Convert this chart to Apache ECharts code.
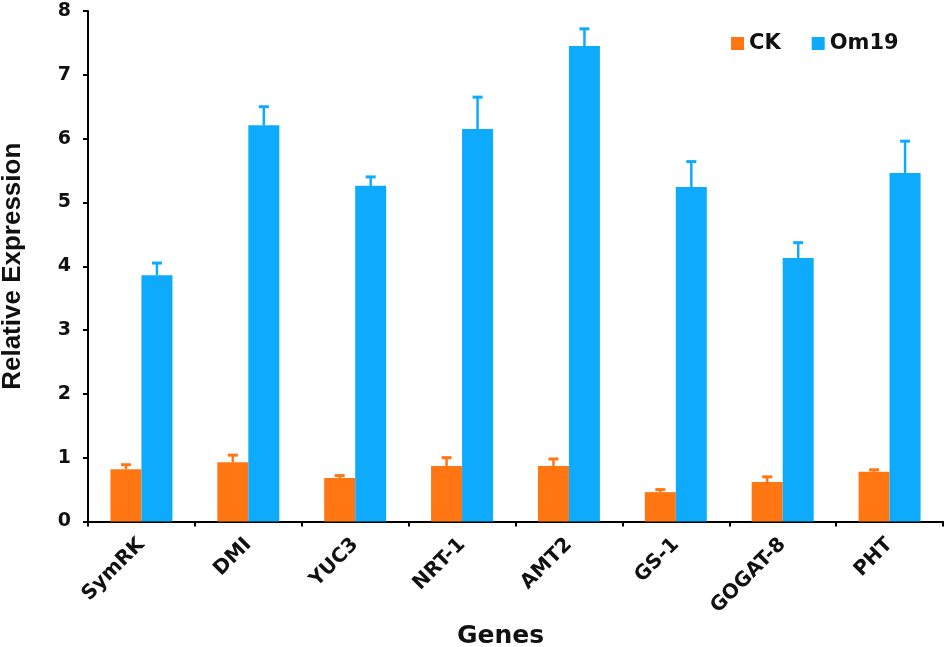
<!DOCTYPE html>
<html>
<head>
<meta charset="utf-8">
<script src="https://cdn.jsdelivr.net/npm/echarts@6/dist/echarts.min.js"></script>
<style>html,body{margin:0;padding:0;background:#fff}#c{width:945px;height:647px}</style>
</head>
<body>
<div id="c"></div>
<script>
const genes = ['SymRK','DMI','YUC3','NRT-1','AMT2','GS-1','GOGAT-8','PHT'];
const ckValues = [0.82,0.93,0.68,0.87,0.87,0.46,0.62,0.78];
const ckErrors = [0.07,0.11,0.04,0.13,0.11,0.04,0.08,0.03];
const omValues = [3.86,6.21,5.26,6.15,7.45,5.24,4.13,5.46];
const omErrors = [0.19,0.29,0.14,0.50,0.27,0.40,0.24,0.50];
const yTicks = [0,1,2,3,4,5,6,7,8];

const CK_COLOR = '#FF7613';
const OM_COLOR = '#0EABFD';
const BAR_W = 31;
const FONT = 'Liberation Sans, Arial, sans-serif';
const WIDE = 'DejaVu Sans, sans-serif';

function errSeries(name, values, errors, color, offset) {
  return {
    type: 'custom',
    name: name + ' err',
    z: 1,
    silent: true,
    data: values.map((v, i) => [i, v, v + errors[i]]),
    renderItem: function (params, api) {
      const base = api.coord([api.value(0), api.value(1)]);
      const top = api.coord([api.value(0), api.value(2)]);
      const x = base[0] + offset;
      return {
        type: 'group',
        children: [
          { type: 'line', shape: { x1: x, y1: base[1], x2: x, y2: top[1] }, style: { stroke: color, lineWidth: 2.5 } },
          { type: 'line', shape: { x1: x - 5, y1: top[1], x2: x + 5, y2: top[1] }, style: { stroke: color, lineWidth: 3 } }
        ]
      };
    }
  };
}

const chart = echarts.init(document.getElementById('c'));
chart.setOption({
  animation: false,
  backgroundColor: '#fff',
  textStyle: { fontFamily: FONT },
  grid: { left: 88, right: 2, top: 11, bottom: 125.5, containLabel: false, outerBoundsMode: 'none' },
  legend: {
    data: ['CK', 'Om19'],
    left: 726, top: 28,
    icon: 'rect', itemWidth: 13, itemHeight: 13, itemGap: 31,
    textStyle: { fontSize: 21, fontWeight: 'bold', color: '#111', fontFamily: WIDE }
  },
  xAxis: {
    type: 'category',
    data: genes,
    name: 'Genes',
    nameLocation: 'middle',
    nameGap: 101,
    nameTextStyle: { fontSize: 25, fontWeight: 'bold', color: '#111', fontFamily: WIDE, padding: [0, 30, 0, 0] },
    axisLine: { lineStyle: { color: '#000', width: 2 } },
    axisTick: { show: true, length: 5, lineStyle: { color: '#000', width: 2 } },
    axisLabel: { rotate: 45, fontSize: 20, fontWeight: 'bold', color: '#111', fontFamily: WIDE, margin: 20 }
  },
  yAxis: {
    type: 'value',
    min: yTicks[0], max: yTicks[yTicks.length - 1], interval: 1,
    name: 'Relative Expression',
    nameLocation: 'middle',
    nameGap: 62,
    nameTextStyle: { fontSize: 26, fontWeight: 'bold', color: '#111', fontFamily: FONT, padding: [0, 0, 0, 0] },
    splitLine: { show: false },
    axisLine: { show: true, lineStyle: { color: '#000', width: 2 } },
    axisTick: { show: true, length: 5, lineStyle: { color: '#000', width: 2 } },
    axisLabel: { fontSize: 19, fontWeight: 'bold', color: '#111', fontFamily: WIDE, margin: 17 }
  },
  series: [
    { type: 'bar', name: 'CK', data: ckValues, barWidth: BAR_W, barGap: '0%', z: 2,
      itemStyle: { color: CK_COLOR } },
    { type: 'bar', name: 'Om19', data: omValues, barWidth: BAR_W, barGap: '0%', z: 2,
      itemStyle: { color: OM_COLOR } },
    errSeries('CK', ckValues, ckErrors, CK_COLOR, -BAR_W / 2),
    errSeries('Om19', omValues, omErrors, OM_COLOR, BAR_W / 2)
  ]
});
</script>
</body>
</html>
